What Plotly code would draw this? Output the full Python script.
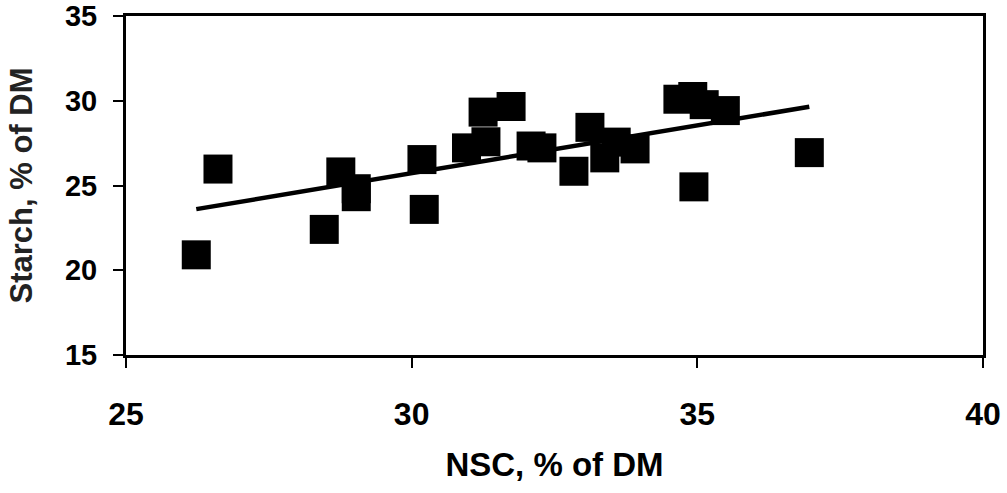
import numpy as np
import plotly.graph_objects as go

# Data
nsc = [26.23, 26.61, 28.47, 28.76, 29.03, 29.03, 30.22, 30.18, 30.96, 31.30,
       31.25, 31.74, 32.09, 32.28, 32.84, 33.12, 33.38, 33.58, 33.91, 34.66,
       34.92, 35.12, 35.49, 34.94, 36.96]
starch = [20.91, 25.97, 22.41, 25.80, 24.81, 24.34, 23.59, 26.53, 27.22, 27.58,
          29.33, 29.66, 27.33, 27.22, 25.84, 28.43, 26.63, 27.56, 27.16, 30.09,
          30.25, 29.77, 29.42, 24.92, 26.94]

x_ticks = [25, 30, 35, 40]
y_ticks = [15, 20, 25, 30, 35]

# Linear trend line (least squares) spanning the data range
slope, intercept = np.polyfit(nsc, starch, 1)
trend_x = [min(nsc), max(nsc)]
trend_y = [slope * v + intercept for v in trend_x]

FONT = "Liberation Sans"

fig = go.Figure()
fig.add_trace(go.Scatter(
    x=nsc, y=starch, mode="markers",
    marker=dict(symbol="square", size=29, color="black", line=dict(width=0)),
    showlegend=False, hoverinfo="x+y",
))
fig.add_trace(go.Scatter(
    x=trend_x, y=trend_y, mode="lines",
    line=dict(color="black", width=4.5),
    showlegend=False, hoverinfo="skip",
))

fig.update_layout(
    width=1007, height=493,
    margin=dict(l=126, r=24, t=16, b=138),
    paper_bgcolor="white", plot_bgcolor="white",
)
fig.update_xaxes(
    range=[25, 40], tickvals=x_ticks, ticktext=[str(v) for v in x_ticks],
    showgrid=False, zeroline=False, automargin=False,
    showline=True, linecolor="black", linewidth=3, mirror=True,
    ticks="outside", ticklen=10, tickwidth=2, tickcolor="black",
    tickfont=dict(family=FONT, size=32, color="black", weight="bold"),
    ticklabelstandoff=19,
    title=dict(text="NSC, % of DM", standoff=22,
               font=dict(family=FONT, size=33, color="black", weight="bold")),
)
fig.update_yaxes(
    range=[15, 35], tickvals=y_ticks, ticktext=[str(v) for v in y_ticks],
    showgrid=False, zeroline=False, automargin=False,
    showline=True, linecolor="black", linewidth=3, mirror=True,
    ticks="outside", ticklen=10, tickwidth=2, tickcolor="black",
    tickfont=dict(family=FONT, size=29, color="black", weight="bold"),
    ticklabelstandoff=10,
    title=dict(text="Starch, % of DM", standoff=24,
               font=dict(family=FONT, size=31, color="#222222", weight="bold")),
)

fig.write_html("out.html")
